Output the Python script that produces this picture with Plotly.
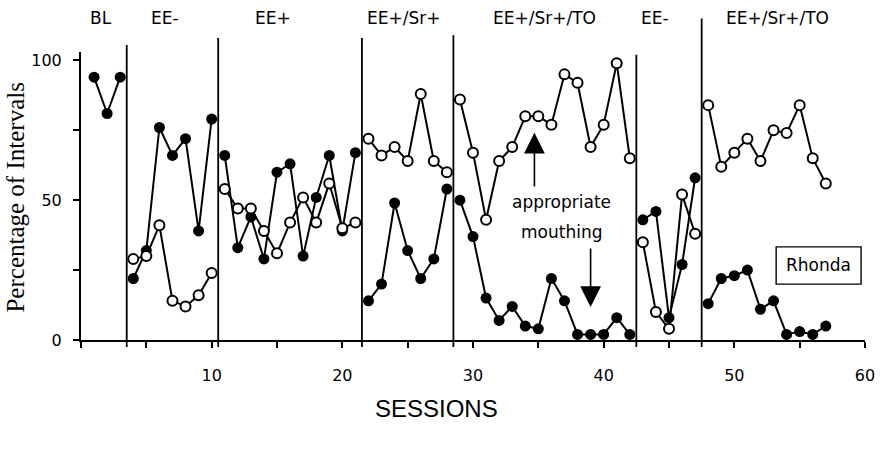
import plotly.graph_objects as go

# ---------------- data ----------------
sessions = list(range(1, 58))
# filled circles
filled = [94, 81, 94,
          22, 32, 76, 66, 72, 39, 79,
          66, 33, 44, 29, 60, 63, 30, 51, 66, 39, 67,
          14, 20, 49, 32, 22, 29, 54,
          50, 37, 15, 7, 12, 5, 4, 22, 14, 2, 2, 2, 8, 2,
          43, 46, 8, 27, 58,
          13, 22, 23, 25, 11, 14, 2, 3, 2, 5]
# open circles (appropriate mouthing), none during BL
open_ = [None, None, None,
         29, 30, 41, 14, 12, 16, 24,
         54, 47, 47, 39, 31, 42, 51, 42, 56, 40, 42,
         72, 66, 69, 64, 88, 64, 60,
         86, 67, 43, 64, 69, 80, 80, 77, 95, 92, 69, 77, 99, 65,
         35, 10, 4, 52, 38,
         84, 62, 67, 72, 64, 75, 74, 84, 65, 56]
phase_names = ["BL", "EE-", "EE+", "EE+/Sr+", "EE+/Sr+/TO", "EE-", "EE+/Sr+/TO"]
phase_label_x = [1.5, 6.4, 14.7, 24.7, 35.5, 43.9, 53.3]
phase_breaks = [3.5, 10.5, 21.5, 28.5, 42.5, 47.5]
phase_line_tops = [105.5, 108, 108, 109, 102, 115]
x_tick_vals = [0, 5, 10, 15, 20, 25, 30, 35, 40, 45, 50, 55, 60]
x_tick_text = ["", "", "10", "", "20", "", "30", "", "40", "", "50", "", "60"]
y_tick_vals = [0, 25, 50, 75, 100]
y_tick_text = ["0", "", "50", "", "100"]

Y_MAX = 103.0
T, B = 52, 115
PLOT_H = 455 - T - B


def py_to_paper(py):
    return (455 - B - py) / PLOT_H


def split_phases(xs, ys, breaks):
    ox, oy = [], []
    for i, (x, y) in enumerate(zip(xs, ys)):
        if i > 0 and any(xs[i - 1] < b < x for b in breaks):
            ox.append(None)
            oy.append(None)
        ox.append(x)
        oy.append(y)
    return ox, oy


fx, fy = split_phases(sessions, filled, phase_breaks)
ox, oy = split_phases(sessions, open_, phase_breaks)

fig = go.Figure()
fig.add_trace(go.Scatter(
    x=fx, y=fy, mode="lines+markers", connectgaps=False,
    line=dict(color="black", width=2),
    marker=dict(symbol="circle", size=11, color="black"),
    cliponaxis=False, showlegend=False, hoverinfo="skip"))
fig.add_trace(go.Scatter(
    x=ox, y=oy, mode="lines+markers", connectgaps=False,
    line=dict(color="black", width=2),
    marker=dict(symbol="circle", size=10, color="white",
                line=dict(color="black", width=2)),
    cliponaxis=False, showlegend=False, hoverinfo="skip"))

shapes = []
for b, top in zip(phase_breaks, phase_line_tops):
    shapes.append(dict(type="line", xref="x", yref="paper", x0=b, x1=b,
                       y0=-2.5 / Y_MAX, y1=top / Y_MAX,
                       line=dict(color="black", width=1.8), layer="above"))
shapes.append(dict(type="rect", xref="x", yref="y", x0=53.2, x1=59.7, y0=20, y1=33.3,
                   line=dict(color="black", width=1.4), fillcolor="white"))

SANS = "DejaVu Sans"
annotations = []
for name, px in zip(phase_names, phase_label_x):
    annotations.append(dict(x=px, y=py_to_paper(18), xref="x", yref="paper", text=name,
                            showarrow=False, xanchor="center", yanchor="middle",
                            font=dict(family=SANS, size=17, color="black")))
annotations += [
    dict(x=56.45, y=26.7, xref="x", yref="y", text="Rhonda", showarrow=False,
         font=dict(family=SANS, size=17, color="black")),
    dict(x=36.8, y=49.4, xref="x", yref="y", text="appropriate", showarrow=False,
         font=dict(family=SANS, size=17, color="black")),
    dict(x=36.8, y=38.7, xref="x", yref="y", text="mouthing", showarrow=False,
         font=dict(family=SANS, size=17, color="black")),
    dict(x=34.7, y=74.1, ax=34.7, ay=54.4, xref="x", yref="y", axref="x", ayref="y",
         text="", showarrow=True, arrowhead=2, arrowsize=2.6, arrowwidth=1.6, arrowcolor="black"),
    dict(x=39.0, y=11.8, ax=39.0, ay=33.3, xref="x", yref="y", axref="x", ayref="y",
         text="", showarrow=True, arrowhead=2, arrowsize=2.6, arrowwidth=1.6, arrowcolor="black"),
    dict(x=27.2, y=py_to_paper(408), xref="x", yref="paper", text="SESSIONS", showarrow=False,
         xanchor="center", yanchor="middle",
         font=dict(family="Liberation Sans, Arial", size=24, color="black")),
    dict(x=-0.084, y=51, xref="paper", yref="y", text="Percentage of Intervals", showarrow=False,
         xanchor="center", yanchor="middle", textangle=-90,
         font=dict(family="Liberation Serif, Times New Roman", size=25, color="black")),
]

fig.update_layout(
    width=887, height=455,
    margin=dict(l=81, r=20, t=T, b=B),
    paper_bgcolor="white", plot_bgcolor="white",
    shapes=shapes, annotations=annotations,
    xaxis=dict(range=[0, 60], showgrid=False, zeroline=False, showline=True,
               linecolor="black", linewidth=2, ticks="outside", ticklen=6, tickwidth=1.6,
               tickcolor="black", tickvals=x_tick_vals, ticktext=x_tick_text,
               ticklabelstandoff=14,
               tickfont=dict(family=SANS, size=16, color="black")),
    yaxis=dict(range=[0, Y_MAX], showgrid=False, zeroline=False, showline=True,
               linecolor="black", linewidth=2, ticks="outside", ticklen=6, tickwidth=1.6,
               tickcolor="black", tickvals=y_tick_vals, ticktext=y_tick_text,
               ticklabelstandoff=8,
               tickfont=dict(family=SANS, size=16, color="black")),
)

fig.write_html("out.html", config={"displayModeBar": False},
               post_script="document.body.style.margin='0';")
